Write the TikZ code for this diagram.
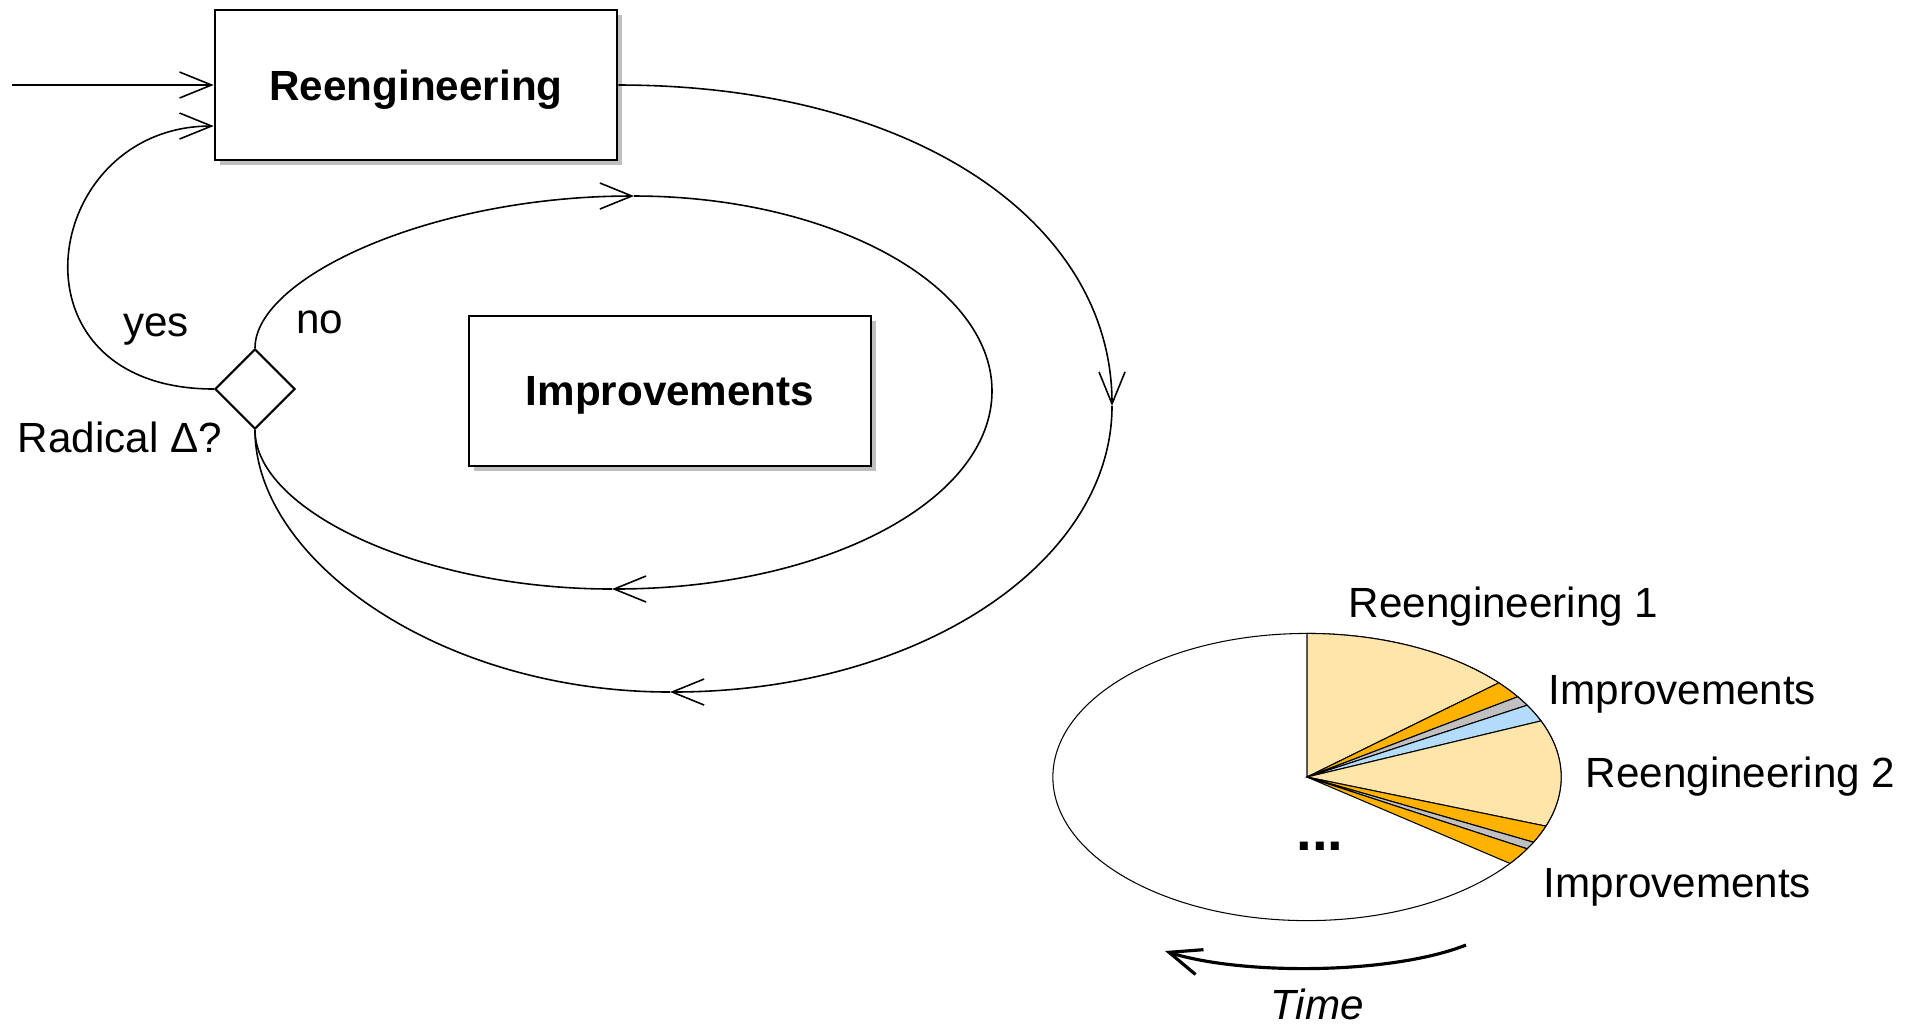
\documentclass[tikz,border=0pt]{standalone}
\usepackage{fontspec}
\setmainfont{Liberation Sans}
\usetikzlibrary{shapes.geometric,arrows.meta,shadows}

\definecolor{pamarillo}{HTML}{FFE5AA}
\definecolor{pnaranja}{HTML}{FFB300}
\definecolor{pgris}{HTML}{C0C0C0}
\definecolor{pazul}{HTML}{B3DCFA}

\tikzset{
  caja/.style={draw, line width=0.7pt, fill=white, minimum width=4.02cm, minimum height=1.5cm,
    text depth=0pt, font=\fontsize{12}{14}\selectfont\bfseries,
    drop shadow={shadow xshift=0.05cm, shadow yshift=-0.05cm, fill=black!25, opacity=1}},
  rombo/.style={draw, diamond, aspect=1, inner sep=0pt, minimum size=0.8cm, fill=white, line width=0.6pt},
  flecha/.style={line width=0.45pt, -{Straight Barb[length=0.32cm, width=0.26cm]}},
  linea/.style={line width=0.45pt},
  etiqueta/.style={font=\fontsize{12}{14}\selectfont, inner sep=0pt},
  rebanada/.style={draw, line width=0.3pt}
}

\begin{document}
\begin{tikzpicture}[x=0.01cm, y=-0.01cm]

    \useasboundingbox (0,0) rectangle (1916,1026);

    % Cajas y decision
    \node[caja] (reeng) at (416,85) {Reengineering};
    \node[caja] (impr) at (670,391) {Improvements};
    \node[rombo] (dec) at (255,389) {};
    \coordinate (entrada) at (12,85);
    \coordinate (reengin) at ([yshift=-0.41cm]reeng.west);

    \node[etiqueta] (yes) at (156,330) {yes};
    \node[etiqueta] (no) at (320,322) {no};
    \node[etiqueta] (rad) at (120,437) {Radical Δ?};

    % Entrada y rama "yes"
    \draw[flecha] (entrada) -- (reeng.west);
    \draw[flecha] (dec.west) .. controls (0,389) and (40,126) .. (reengin);

    % Ciclo interior (mejoras)
    \coordinate (iT) at (634,196);
    \coordinate (iR) at (992,391);
    \coordinate (iB) at (612,589);
    \draw[flecha] (dec.north) .. controls (255,278) and (430,196) .. (iT);
    \draw[linea] (iT) .. controls (830,196) and (992,284) .. (iR);
    \draw[flecha] (iR) .. controls (992,500) and (826,589) .. (iB);
    \draw[linea] (iB) .. controls (420,589) and (255,510) .. (dec.south);

    % Ciclo exterior (reingenieria)
    \coordinate (oR) at (1112,406);
    \coordinate (oB) at (670,692);
    \draw[flecha] (reeng.east) .. controls (914,85) and (1112,222) .. (oR);
    \draw[flecha] (oR) .. controls (1112,562) and (920,692) .. (oB);
    \draw[linea] (oB) .. controls (440,692) and (255,560) .. (dec.south);

    % Grafico de tarta
    \coordinate (pc) at (1307,777);
    \begin{scope}[shift={(pc)}, x=2.54cm, y=1.435cm]
        \draw[rebanada, fill=white] (0,0) ellipse[x radius=1, y radius=1];
        \foreach \a/\b/\c in {90/41/pamarillo, 41/34/pnaranja, 34/30/pgris, 30/23/pazul,
                              23/-20/pamarillo, -20/-27/pnaranja, -27/-30/pgris, -30/-37/pnaranja}
            \draw[rebanada, fill=\c] (0,0) -- (\a:1) arc[start angle=\a, end angle=\b, radius=1] -- cycle;
    \end{scope}

    \node[etiqueta, anchor=west] (r1) at (1348,607) {Reengineering 1};
    \node[etiqueta, anchor=west] (m1) at (1548,694) {Improvements};
    \node[etiqueta, anchor=west] (r2) at (1585,777) {Reengineering 2};
    \node[etiqueta, anchor=west] (m2) at (1543,887) {Improvements};
    \node[etiqueta, font=\fontsize{16}{18}\selectfont\bfseries] (puntos) at (1320,846) {...};

    % Flecha del tiempo
    \coordinate (tA) at (1466,945);
    \coordinate (tB) at (1165,951);
    \draw[flecha, line width=0.9pt] (tA) .. controls (1390,975) and (1240,975) .. (tB);
    \node[etiqueta, font=\fontsize{12}{14}\selectfont\itshape] (tiempo) at (1317,1004) {Time};

\end{tikzpicture}
\end{document}
